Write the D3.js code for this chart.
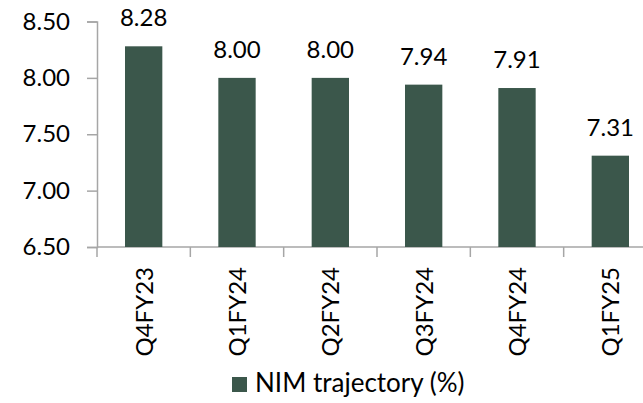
<!DOCTYPE html>
<html>
<head>
<meta charset="utf-8">
<script src="https://cdn.jsdelivr.net/npm/d3@7"></script>
<style>
  html, body { margin: 0; padding: 0; background: #fff; }
  svg { display: block; font-family: Lato, "Open Sans", sans-serif; }
</style>
</head>
<body>
<svg id="chart" width="643" height="403"></svg>
<script>
// Net interest margin by quarter (%)
const quarters = ["Q4FY23", "Q1FY24", "Q2FY24", "Q3FY24", "Q4FY24", "Q1FY25"];
const nimValues = [8.28, 8.00, 8.00, 7.94, 7.91, 7.31];
const yTicks = [6.5, 7.0, 7.5, 8.0, 8.5];
const seriesName = "NIM trajectory (%)";

const barColor = "#3b574b";
const axisColor = "#a6a6a6";

const svg = d3.select("#chart");

const x = d3.scaleBand().domain(quarters).range([97, 657]).paddingInner(0.6).paddingOuter(0.3);
const y = d3.scaleLinear().domain([6.5, 8.5]).range([247, 21.5]);

// y axis
const yAxis = svg.append("g").attr("transform", "translate(97,0)")
  .call(d3.axisLeft(y).tickValues(yTicks).tickFormat(d3.format(".2f")).tickSizeOuter(0).tickSize(10).tickPadding(17));
yAxis.select(".domain").attr("stroke", axisColor).attr("stroke-width", 1.5);
yAxis.selectAll(".tick line").attr("stroke", axisColor).attr("stroke-width", 1.5);
yAxis.selectAll(".tick text").attr("fill", "#000").style("font-size", "24px")
  .style("font-family", "Lato, 'Open Sans', sans-serif");

// category boundaries on the x axis
const step = x.step();
const bounds = d3.range(quarters.length + 1).map(i => x(quarters[0]) - x.paddingOuter() * step + i * step);
svg.append("line").attr("x1", 97).attr("x2", 657).attr("y1", y(6.5)).attr("y2", y(6.5))
  .attr("stroke", axisColor).attr("stroke-width", 1.5);
svg.selectAll(".xtick").data(bounds).join("line").attr("class", "xtick")
  .attr("x1", d => d).attr("x2", d => d).attr("y1", y(6.5)).attr("y2", y(6.5) + 10)
  .attr("stroke", axisColor).attr("stroke-width", 1.5);

// bars
svg.selectAll(".bar").data(quarters).join("rect").attr("class", "bar")
  .attr("x", d => x(d)).attr("width", x.bandwidth())
  .attr("y", (d, i) => y(nimValues[i])).attr("height", (d, i) => y(6.5) - y(nimValues[i]))
  .attr("fill", barColor);

// value labels
svg.selectAll(".val").data(quarters).join("text").attr("class", "val")
  .attr("x", d => x(d) + x.bandwidth() / 2)
  .attr("y", (d, i) => y(nimValues[i]) - 20)
  .attr("text-anchor", "middle").style("font-size", "24px").attr("fill", "#000")
  .text((d, i) => d3.format(".2f")(nimValues[i]));

// rotated category labels
svg.selectAll(".cat").data(quarters).join("text").attr("class", "cat")
  .attr("transform", d => `translate(${x(d) + x.bandwidth() / 2 + 9},267) rotate(-90)`)
  .attr("text-anchor", "end").style("font-size", "24px").attr("fill", "#000")
  .text(d => d);

// legend
const legend = svg.append("g").attr("transform", "translate(232,377)");
legend.append("rect").attr("width", 15).attr("height", 15).attr("fill", barColor);
legend.append("text").attr("x", 23).attr("y", 15).style("font-size", "26px").attr("fill", "#000").text(seriesName);
</script>
</body>
</html>
